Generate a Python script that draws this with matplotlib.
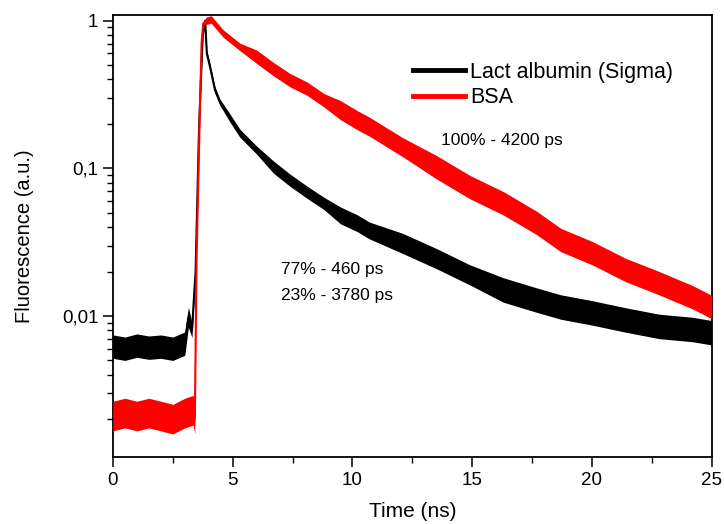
import numpy as np
import matplotlib
matplotlib.use("Agg")
import matplotlib.pyplot as plt
from matplotlib.lines import Line2D
from matplotlib.ticker import FixedLocator, FixedFormatter, LogLocator, NullFormatter

plt.rcParams['font.family'] = ['Liberation Sans', 'DejaVu Sans']

# Lact albumin (Sigma): time (ns), fluorescence, noise band factor
t_lact = [0.0, 0.5, 1.0, 1.5, 2.0, 2.5, 3.0, 3.15, 3.3, 3.45, 3.6, 3.75, 3.85,
          3.92, 4.05, 4.26, 4.47, 4.88, 5.3, 6.0, 6.7, 7.4, 8.1, 8.8, 9.5,
          10.2, 10.7, 12.1, 13.5, 14.9, 16.3, 17.7, 18.7, 20.0, 21.4, 22.8, 24.2, 25.0]
f_lact = [0.0062, 0.0060, 0.0063, 0.0061, 0.0062, 0.0060, 0.0065, 0.0098, 0.0080,
          0.020, 0.20, 0.80, 1.0, 0.60, 0.49, 0.34, 0.28, 0.22, 0.173, 0.133,
          0.102, 0.083, 0.069, 0.058, 0.048, 0.0425, 0.038, 0.031, 0.0245, 0.019,
          0.0150, 0.0128, 0.0115, 0.0105, 0.0094, 0.0085, 0.0081, 0.0077]
s_lact = [1.2] * 7 + [1.17, 1.12] + [1.03] * 4 + [1.05] * 4 + [1.065] * 3 + \
         [1.10] * 4 + [1.14] * 3 + [1.17] * 3 + [1.21] * 8

# BSA
t_bsa = [0.0, 0.5, 1.0, 1.5, 2.0, 2.5, 3.0, 3.35, 3.42, 3.49, 3.63, 3.70, 3.77,
         3.9, 4.1, 4.6, 5.3, 6.0, 6.7, 7.4, 8.1, 8.8, 9.5, 10.2, 10.7, 12.1,
         13.5, 14.9, 16.3, 17.7, 18.7, 20.0, 21.4, 22.8, 24.2, 25.0]
f_bsa = [0.0021, 0.0022, 0.0021, 0.0022, 0.0021, 0.0020, 0.0022, 0.0023, 0.0020,
         0.024, 0.25, 0.70, 0.96, 1.0, 1.02, 0.82, 0.665, 0.57, 0.47, 0.395,
         0.347, 0.29, 0.248, 0.212, 0.192, 0.139, 0.102, 0.0747, 0.058, 0.0426,
         0.0327, 0.0267, 0.0205, 0.0167, 0.0134, 0.0115]
s_bsa = [1.26] * 9 + [1.02] * 4 + [1.06] * 4 + [1.11] * 5 + [1.16] * 4 + [1.2] * 10

labels = ['Lact albumin (Sigma)', 'BSA']
colors = ['black', 'red']

fig = plt.figure(figsize=(7.24, 5.24), dpi=100)
ax = fig.add_axes([0.156, 0.128, 0.827, 0.843])

for i, (t, f, s) in enumerate([(t_lact, f_lact, s_lact), (t_bsa, f_bsa, s_bsa)]):
    t = np.array(t)
    f = np.array(f)
    s = np.array(s)
    ax.fill_between(t, f / s, f * s, color=colors[i], lw=0, zorder=2 + i)
    ax.plot(t, f, color=colors[i], lw=1.5, zorder=2 + i)

ax.set_yscale('log')
ax.set_xlim(0, 25)
ax.set_ylim(0.00111, 1.09)

ax.yaxis.set_major_locator(FixedLocator([0.01, 0.1, 1]))
ax.yaxis.set_major_formatter(FixedFormatter(['0,01', '0,1', '1']))
ax.yaxis.set_minor_locator(LogLocator(base=10, subs=np.arange(2, 10)))
ax.yaxis.set_minor_formatter(NullFormatter())
ax.set_xticks([0, 5, 10, 15, 20, 25])
ax.set_xticks([2.5, 7.5, 12.5, 17.5, 22.5], minor=True)

ax.tick_params(which='major', direction='out', length=7, width=1.1, labelsize=13.5)
ax.tick_params(which='minor', direction='out', length=4, width=1.0)
ax.tick_params(top=False, right=False, which='both')
for sp in ax.spines.values():
    sp.set_linewidth(1.3)

ax.set_xlabel('Time (ns)', fontsize=15, labelpad=10)
ax.set_ylabel('Fluorescence (a.u.)', fontsize=14.5, labelpad=20)

ax.text(13.69, 0.155, '100% - 4200 ps', fontsize=12.5, va='center')
ax.text(7.01, 0.0205, '77% - 460 ps', fontsize=12.5, va='center')
ax.text(7.01, 0.01387, '23% - 3780 ps', fontsize=12.5, va='center')

handles = [Line2D([], [], color=c, lw=3.5) for c in colors]
ax.legend(handles, labels, loc='upper left', bbox_to_anchor=(0.501, 0.895),
          frameon=False, fontsize=15.5, handlelength=2.4, handletextpad=0.25,
          labelspacing=0.22, borderpad=0, borderaxespad=0)

fig.savefig('out.png', dpi=100)
